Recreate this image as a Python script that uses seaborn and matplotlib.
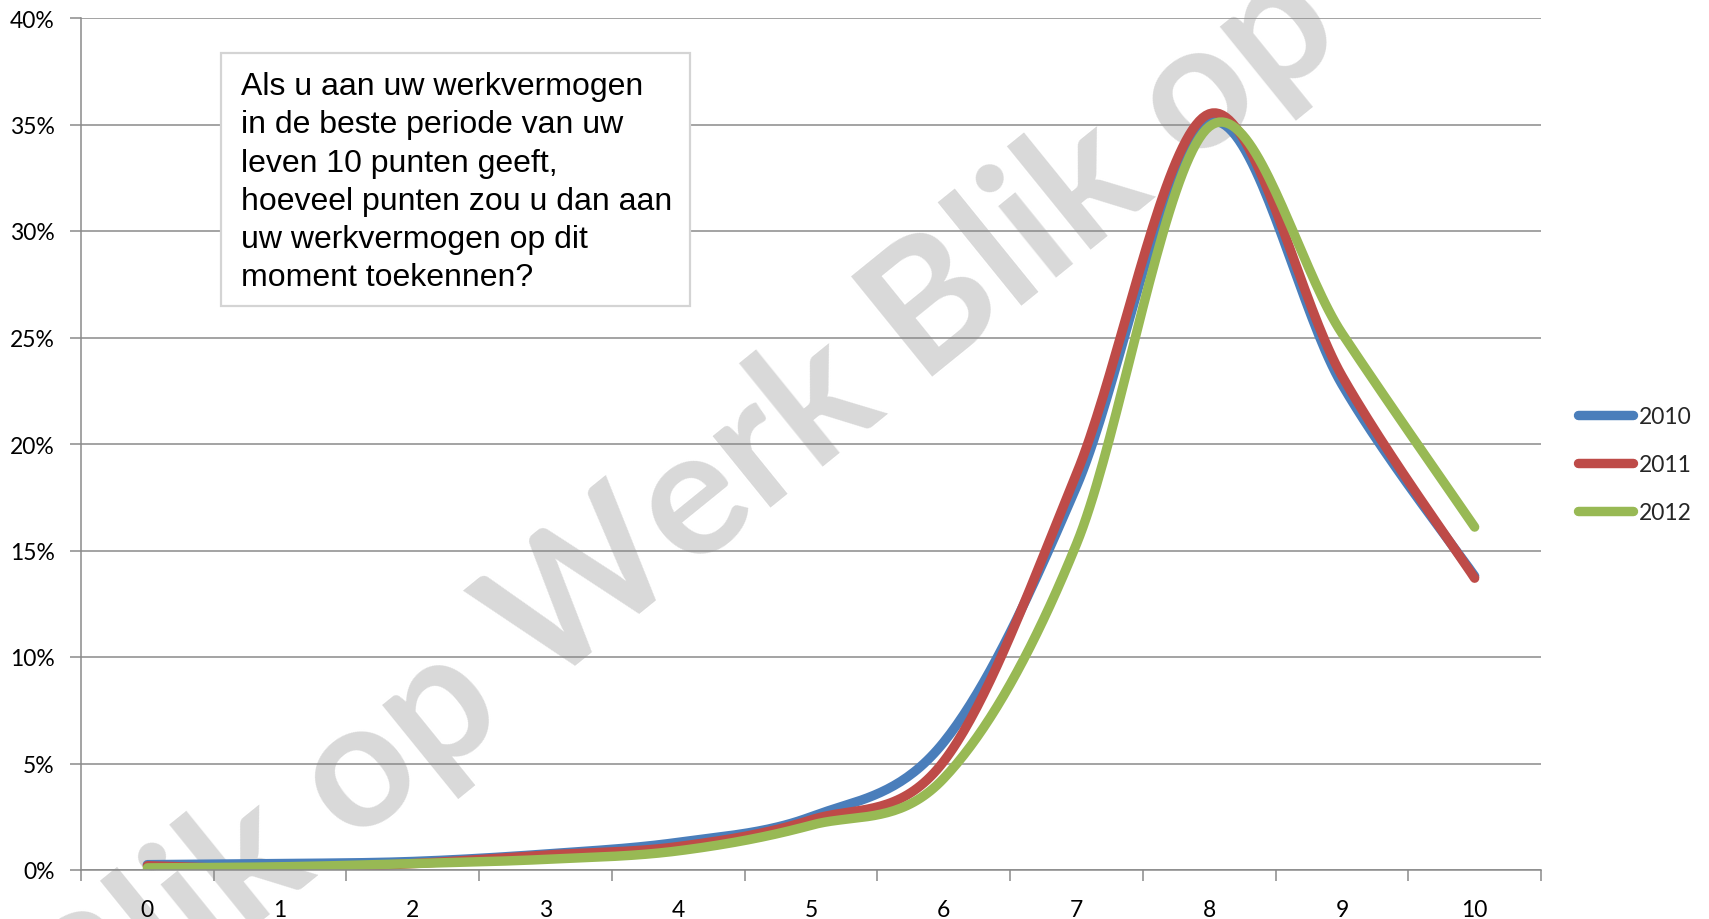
import numpy as np
import pandas as pd
import seaborn as sns
import matplotlib.pyplot as plt
from matplotlib.patches import Rectangle
from matplotlib.lines import Line2D

# ---- data ----
scores = list(range(11))
score_labels = [str(s) for s in scores]
years = ["2010", "2011", "2012"]
pct_2010 = [0.25, 0.30, 0.40, 0.75, 1.30, 2.50, 6.00, 18.0, 35.1, 22.8, 13.8]
pct_2011 = [0.20, 0.05, 0.30, 0.70, 1.10, 2.35, 5.10, 18.6, 35.5, 23.2, 13.7]
pct_2012 = [0.10, 0.15, 0.30, 0.50, 0.90, 2.10, 4.30, 15.3, 34.9, 25.2, 16.1]
y_ticks = [0, 5, 10, 15, 20, 25, 30, 35, 40]
y_tick_labels = [f"{v}%" for v in y_ticks]
colors = ["#4A7EBB", "#BE4B48", "#98B954"]
question = ("Als u aan uw werkvermogen\n"
            "in de beste periode van uw\n"
            "leven 10 punten geeft,\n"
            "hoeveel punten zou u dan aan\n"
            "uw werkvermogen op dit\n"
            "moment toekennen?")
watermark = "Blik op Werk Blik op"


def excel_smooth(xs, ys, n=40):
    """Bezier smoothing through the points, as Excel's 'smoothed line'."""
    pts = np.column_stack([xs, ys]).astype(float)
    last = len(pts) - 1
    out = []
    for i in range(last):
        p0 = pts[max(i - 1, 0)]
        p1 = pts[i]
        p2 = pts[i + 1]
        p3 = pts[min(i + 2, last)]
        c1 = p1 + (p2 - p0) / 6.0
        c2 = p2 - (p3 - p1) / 6.0
        t = np.linspace(0, 1, n, endpoint=(i == last - 1))[:, None]
        seg = ((1 - t) ** 3) * p1 + 3 * ((1 - t) ** 2) * t * c1 \
            + 3 * (1 - t) * t ** 2 * c2 + t ** 3 * p2
        out.append(seg)
    return np.vstack(out)


frames = []
for yr, vals in zip(years, [pct_2010, pct_2011, pct_2012]):
    curve = excel_smooth(scores, vals)
    frames.append(pd.DataFrame({"score": curve[:, 0], "pct": curve[:, 1],
                                "year": yr, "order": np.arange(len(curve))}))
df = pd.concat(frames, ignore_index=True)

sns.set_theme(style="white")
plt.rcParams["font.family"] = ["Lato", "DejaVu Sans"]

fig = plt.figure(figsize=(17.09, 9.20), dpi=100)
ax = fig.add_axes([81 / 1709, 1 - 871 / 920, (1541 - 81) / 1709, (871 - 19) / 920])

grid_col = "#8a8a8a"
lw = 6.8

sns.lineplot(data=df, x="score", y="pct", hue="year", palette=colors,
             sort=False, estimator=None, units="year", linewidth=lw,
             ax=ax, legend=False, solid_capstyle="round",
             solid_joinstyle="round")

ax.set_xlim(-0.5, 10.5)
ax.set_ylim(0, 40)
ax.set_xlabel("")
ax.set_ylabel("")

ax.set_yticks(y_ticks, y_tick_labels)
ax.set_xticks(scores, score_labels)
ax.set_xticks(np.arange(-0.5, 11, 1.0), minor=True)
ax.tick_params(axis="x", which="major", length=0, pad=21, labelsize=16.5,
               labelcolor="black")
ax.tick_params(axis="x", which="minor", length=8, width=1.1, color=grid_col,
               direction="out", bottom=True)
ax.tick_params(axis="y", which="major", length=8, width=1.1, color=grid_col,
               direction="out", left=True, pad=11, labelsize=16.5,
               labelcolor="black")

ax.set_axisbelow(True)
ax.yaxis.grid(True, color=grid_col, linewidth=1.1)
ax.xaxis.grid(False)
for s in ["top", "right"]:
    ax.spines[s].set_visible(False)
for s in ["left", "bottom"]:
    ax.spines[s].set_color(grid_col)
    ax.spines[s].set_linewidth(1.1)

# watermark
ax.text(684 / 1709, 1 - 512 / 920, watermark, transform=fig.transFigure,
        rotation=39, rotation_mode="anchor", ha="center", va="center",
        fontsize=128, fontweight="bold", color="#d9d9d9",
        family=["Lato", "DejaVu Sans"], zorder=0.1, clip_on=False)

# question box
box = Rectangle((221 / 1709, 1 - 307 / 920), (690 - 221) / 1709,
                (307 - 54) / 920, transform=fig.transFigure,
                facecolor="white", edgecolor="#d4d4d4", linewidth=1.6,
                zorder=5)
fig.patches.append(box)
fig.text(241 / 1709, 1 - 72 / 920, question, ha="left", va="top",
         fontsize=23, family=["Liberation Sans"], linespacing=1.36,
         color="black", zorder=6)

# legend
handles = [Line2D([0], [0], color=c, linewidth=lw, solid_capstyle="round")
           for c in colors]
fig.legend(handles, years, loc="upper left",
           bbox_to_anchor=(1578 / 1709, 1 - 407 / 920), frameon=False,
           fontsize=16.5, handlelength=2.4, handletextpad=0.25,
           labelspacing=1.17, borderpad=0, borderaxespad=0)

fig.savefig("out.png", dpi=100)
